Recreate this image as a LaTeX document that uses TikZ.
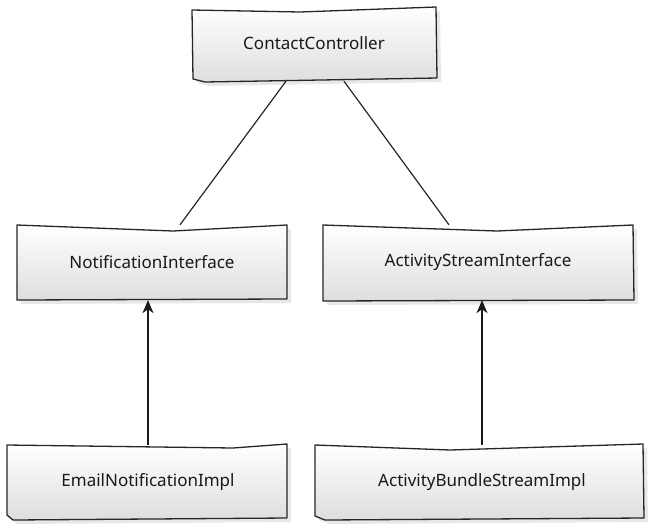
\documentclass[tikz,border=0pt]{standalone}
\usepackage{fontspec}
\setmainfont{Noto Sans}
\usetikzlibrary{arrows.meta,shadows}

\tikzset{
  % invisible named frame carrying the label of each class box
  classbox/.style={rectangle, inner sep=0pt, text=black!90,
    font=\fontsize{17}{20}\selectfont},
  % sketchy outline of a class box
  sketch/.style={draw=black!85, line width=1.3pt, line join=round,
    top color=white, bottom color=black!13,
    drop shadow={opacity=0.18, shadow xshift=4pt, shadow yshift=-4pt}},
  assoc/.style={draw=black!85, line width=1.2pt},
  realize/.style={draw=black!90, line width=1.2pt,
    -{Stealth[length=13pt,width=11pt,inset=4pt]}}
}

\begin{document}
\begin{tikzpicture}[x=1pt,y=-1pt]
\useasboundingbox (0,0) rectangle (648,523);

% outlines of the class boxes
\path[sketch] (192,10) -- (300,12) -- (436,7) -- (437,78) -- (205,82) -- (193,79) -- cycle;
\path[sketch] (17,225) -- (173,231) -- (287,225) -- (287,299) -- (17,300) -- cycle;
\path[sketch] (323,225) -- (497,231) -- (633,225) -- (634,300) -- (323,301) -- cycle;
\path[sketch] (7,445) -- (233,448) -- (287,444) -- (287,518) -- (13,520) -- (7,515) -- cycle;
\path[sketch] (315,445) -- (450,450) -- (643,444) -- (644,518) -- (325,520) -- (315,516) -- cycle;

% labels
\node[classbox, minimum width=244pt, minimum height=72pt] (cc)   at (314,43)    {ContactController};
\node[classbox, minimum width=270pt, minimum height=75pt] (ni)   at (152,262.5) {NotificationInterface};
\node[classbox, minimum width=310pt, minimum height=75pt] (asi)  at (478,262.5) {ActivityStreamInterface};
\node[classbox, minimum width=280pt, minimum height=74pt] (eni)  at (148,482)   {EmailNotificationImpl};
\node[classbox, minimum width=326pt, minimum height=74pt] (absi) at (482,482)   {ActivityBundleStreamImpl};

% dependencies of the controller
\draw[assoc] ([xshift=-28pt,yshift=-2pt]cc.south) -- ([xshift=28pt]ni.north);
\draw[assoc] ([xshift=30pt,yshift=-2pt]cc.south) -- ([xshift=-29pt]asi.north);

% implementations
\draw[realize] (eni.north) -- (eni.north |- ni.south);
\draw[realize] (absi.north) -- (absi.north |- asi.south);
\end{tikzpicture}
\end{document}
